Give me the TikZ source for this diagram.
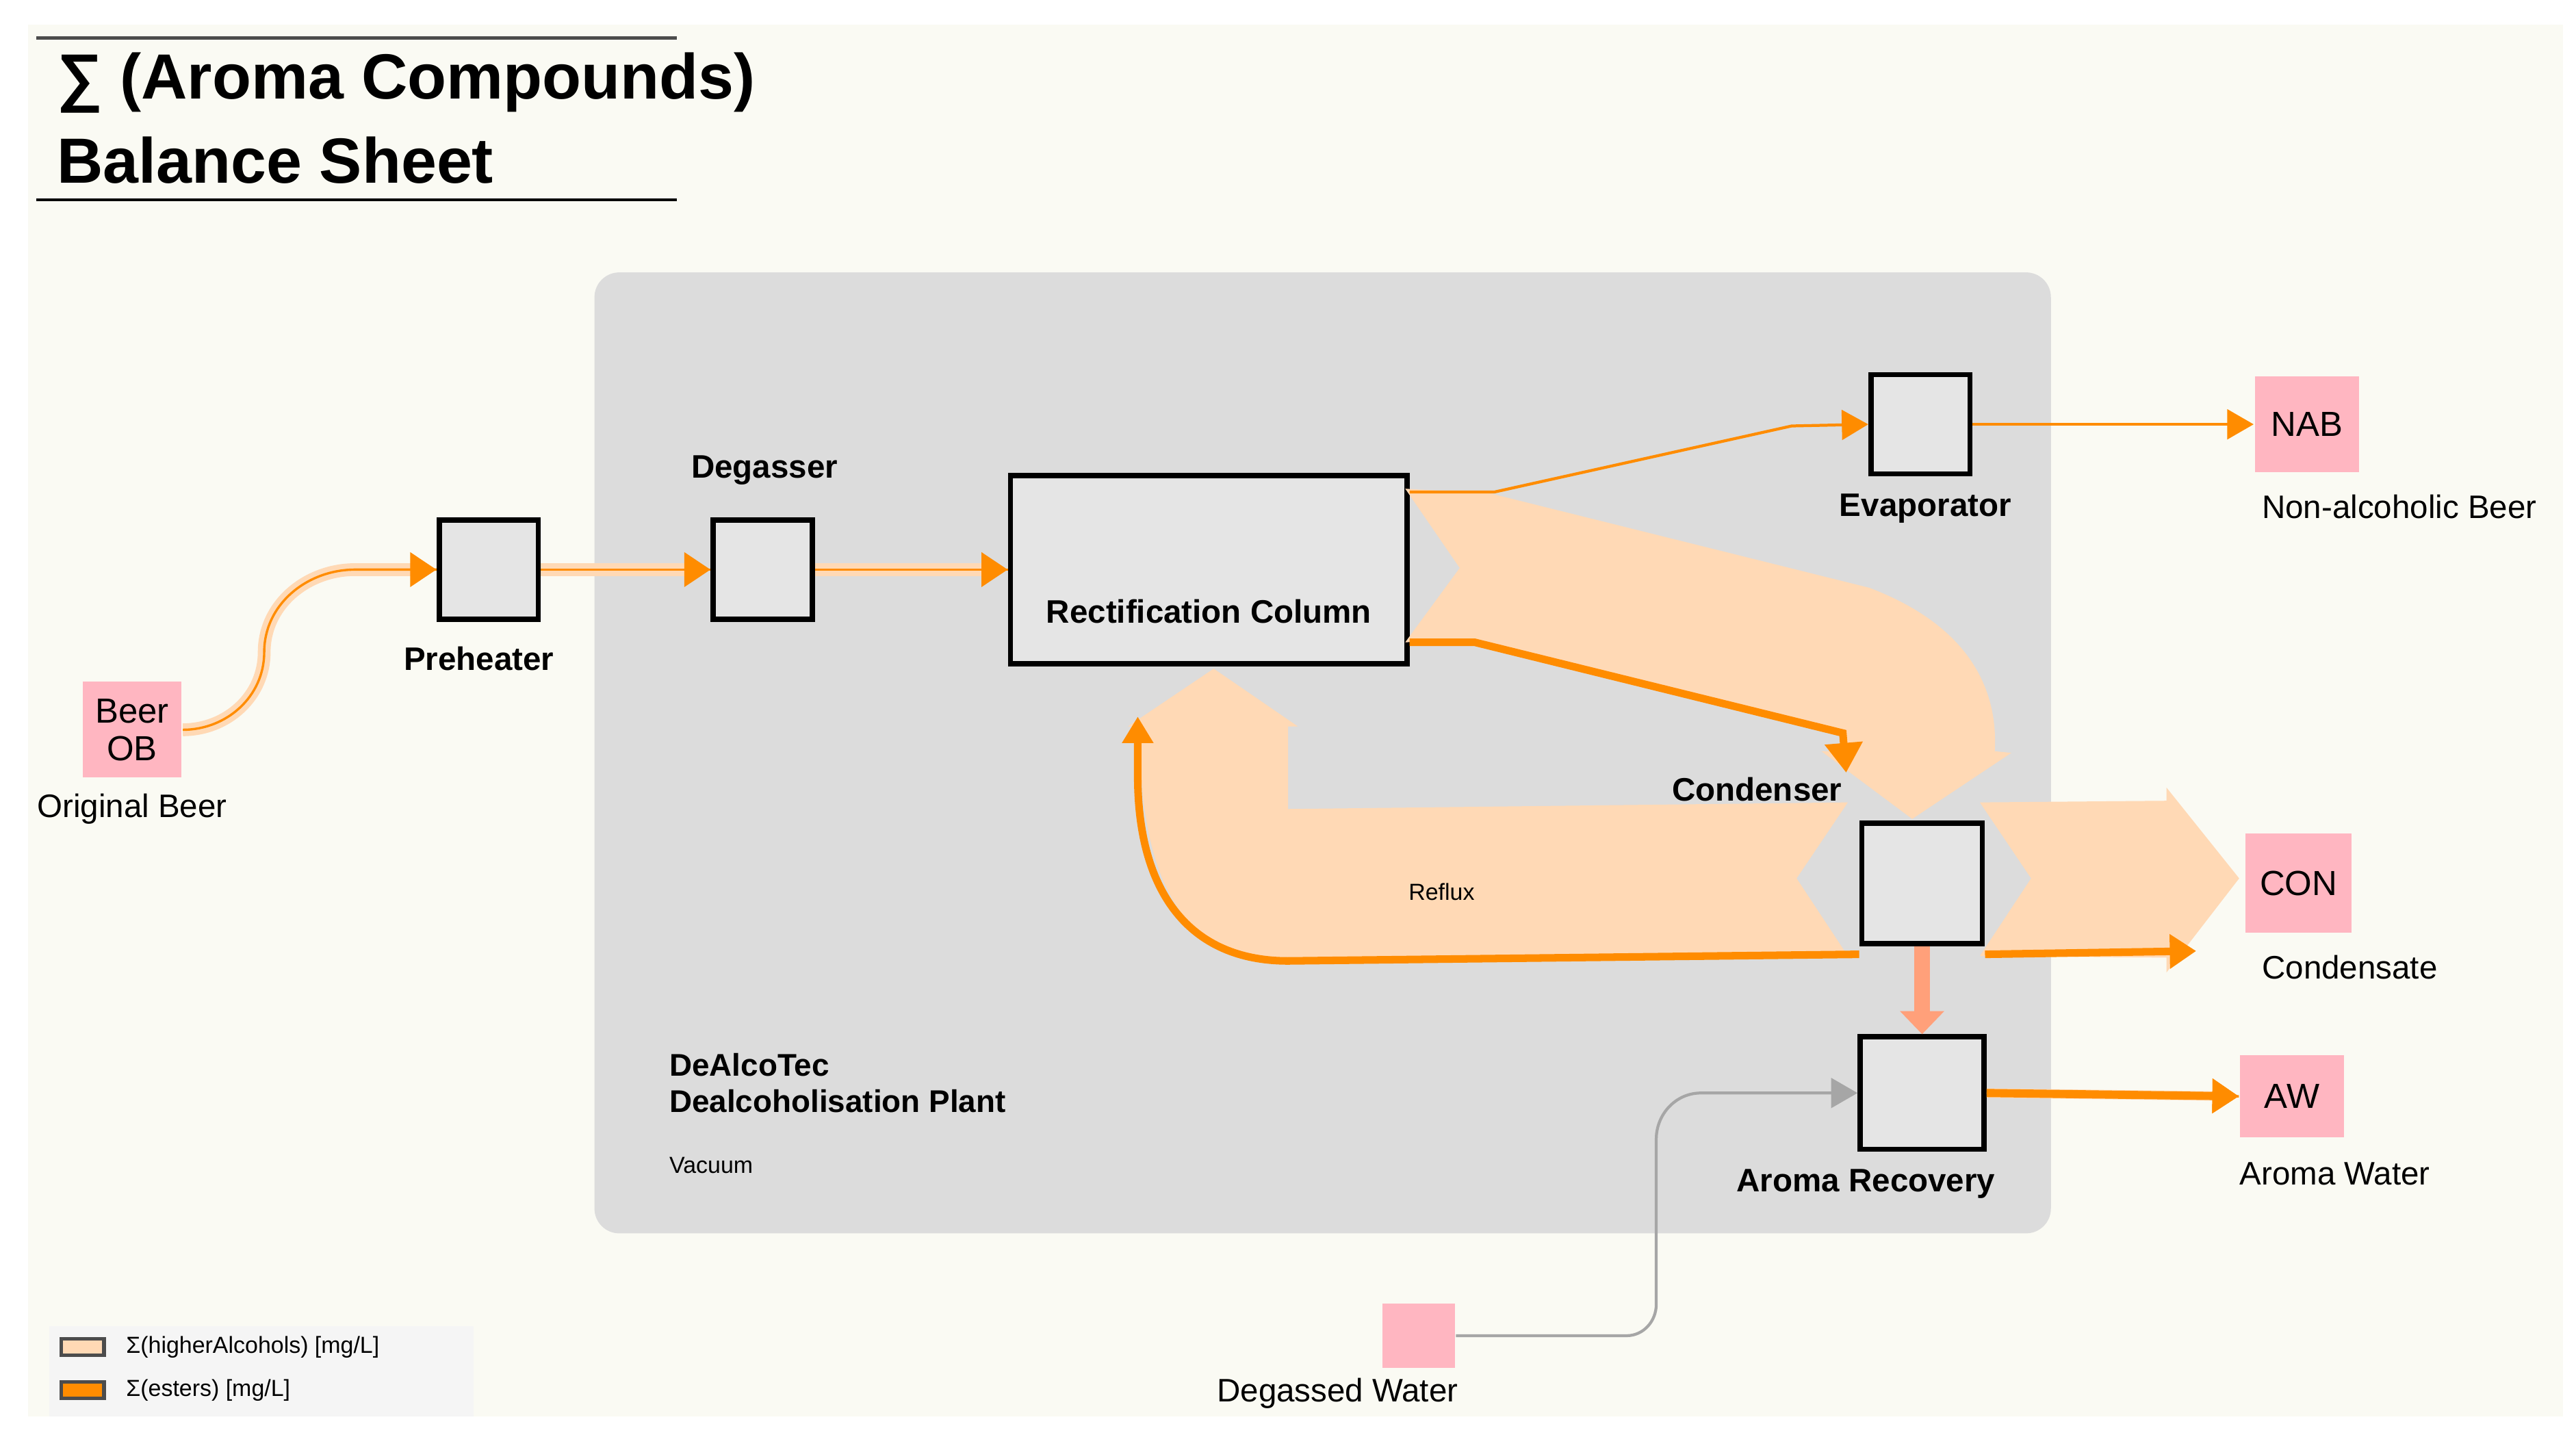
\documentclass[tikz,border=0pt]{standalone}
\usepackage{fontspec}
\setmainfont{Liberation Sans}
\usetikzlibrary{positioning,arrows.meta}
\definecolor{peach}{HTML}{FFD9B5}
\definecolor{ester}{HTML}{FF8C00}
\definecolor{rose}{HTML}{FFB6C1}
\definecolor{salmon}{HTML}{FFA07A}
\definecolor{plant}{HTML}{DCDCDC}
\definecolor{cream}{HTML}{FAFAF3}
\begin{document}
\begin{tikzpicture}[x=0.01cm,y=-0.01cm,
  unit/.style={draw=black,line width=0.9pt,fill=black!10,minimum width=#1,minimum height=#1,inner sep=0pt},
  unit/.default=0.6cm,
  stream/.style={fill=rose,inner sep=0pt,minimum width=0.6cm,minimum height=0.58cm,align=center,font=\fontsize{6}{6.5}\selectfont},
  lbl/.style={font=\fontsize{5.6}{6.5}\selectfont},
  blbl/.style={font=\bfseries\fontsize{5.6}{6.5}\selectfont},
  feed/.style={draw=peach,line width=2.2pt,-{Triangle[length=1.6mm,width=2mm,color=ester]},
    postaction={draw=ester,line width=0.4pt,-}},
  vap/.style={draw=ester,line width=0.5pt,-{Triangle[length=1.6mm,width=1.8mm]}}]
\useasboundingbox (0,0) rectangle (1560,870);
\fill[white] (0,0) rectangle (1560,870);
\fill[cream] (17,15) rectangle (1552,858);
% title
\draw[black!70,line width=0.5pt] (22,23) -- (410,23);
\draw[black,line width=0.5pt] (22,121) -- (410,121);
\node[anchor=west,font=\bfseries\fontsize{11}{13}\selectfont] at (22,50) {∑ (Aroma Compounds)};
\node[anchor=west,font=\bfseries\fontsize{11}{13}\selectfont] at (22,97) {Balance Sheet};
% plant
\fill[plant,rounded corners=0.15cm] (360,165) rectangle (1242,747);
\node[anchor=west,font=\bfseries\fontsize{5.4}{6.3}\selectfont,align=left] at (393,656) {DeAlcoTec\\Dealcoholisation Plant};
\node[anchor=west,font=\fontsize{4}{5}\selectfont] at (393,706) {Vacuum};
% legend
\fill[black!4] (30,803) rectangle (287,858);
\fill[peach,draw=black!70,line width=0.6pt] (37,811) rectangle (63,821);
\fill[ester,draw=black!70,line width=0.6pt] (37,837) rectangle (63,847);
\node[anchor=west,font=\fontsize{4}{5}\selectfont] at (64,816) {Σ(higherAlcohols) [mg/L]};
\node[anchor=west,font=\fontsize{4}{5}\selectfont] at (64,842) {Σ(esters) [mg/L]};
% streams and units
\node[stream] (ob) at (80,442) {Beer\\OB};
\node[lbl] at (80,490) {Original Beer};
\node[unit] (pre) at (296,345) {};
\node[blbl] at (290,399) {Preheater};
\node[unit] (deg) at (462,345) {};
\node[blbl] at (463,285) {Degasser};
\node[unit,minimum width=2.4cm,minimum height=1.14cm] (col) at (732,345) {};
\node[blbl,anchor=south east] at (843,390) {Rectification Column};
\node[unit] (eva) at (1163,257) {};
\node[blbl] at (1166,308) {Evaporator};
\node[stream,minimum width=0.63cm] (nab) at (1397,257) {NAB};
\node[lbl] at (1453,307) {Non-alcoholic Beer};
\node[unit=0.73cm] (cond) at (1164,535) {};
\node[blbl] at (1064,478) {Condenser};
\node[unit,minimum width=0.75cm,minimum height=0.68cm] (aro) at (1164,662) {};
\node[blbl] at (1130,717) {Aroma Recovery};
\node[stream,minimum width=0.64cm,minimum height=0.6cm] (con) at (1392,535) {CON};
\node[lbl] at (1423,586) {Condensate};
\node[stream,minimum width=0.63cm,minimum height=0.5cm] (aw) at (1388,664) {AW};
\node[lbl] at (1414,711) {Aroma Water};
\node[stream,minimum width=0.44cm,minimum height=0.39cm] (dw) at (859,809) {};
\node[lbl] at (810,844) {Degassed Water};
% bands
\fill[peach] (851,296) -- (903,299) -- (1132,356) .. controls (1195,380) and (1210,420) .. (1208,455)
  -- (1218,456) -- (1158,496) -- (1103,455) -- (1117,455) -- (1116,444) -- (893,388) -- (851,389) -- (884,344) -- cycle;
\fill[peach] (1119,486) -- (780,490) -- (780,440) -- (786,440) -- (735,405) -- (683,440) -- (690,440)
  .. controls (690,540) and (720,582) .. (780,582) -- (1119,579) -- (1088,532) -- cycle;
\fill[peach] (1199,486) -- (1312,485) -- (1312,477) -- (1356,532) -- (1312,589) -- (1312,580) -- (1199,579) -- (1230,532) -- cycle;
\node[font=\fontsize{4}{5}\selectfont] at (873,540) {Reflux};
% ester lines on bands
\draw[ester,line width=1.3pt,-{Triangle[length=1.8mm,width=2.2mm]}] (col.east|-0,389) -- (893,389) -- (1116,444) -- (1118,468);
\draw[ester,line width=1.3pt,-{Triangle[length=1.6mm,width=1.8mm]}] (cond.south west|-0,578) -- (780,582) .. controls (720,582) and (689,540) .. (689,470) -- (689,434);
\draw[ester,line width=1.3pt,-{Triangle[length=1.6mm,width=2mm]}] (cond.south east|-0,578) -- (1330,576);
% feed lines
\draw[feed] (ob.east) to[out=0,in=-90] (160,395) to[out=90,in=180] (215,345) -- (pre.west);
\draw[feed] (pre.east) -- (deg.west);
\draw[feed] (deg.east) -- (col.west);
\draw[vap] (col.east|-0,298) -- (905,298) -- (1085,258) -- (eva.west);
\draw[vap] (eva.east) -- (nab.west);
\draw[salmon,line width=2.8pt,-{Triangle[length=1.4mm,width=2.6mm]}] (cond.south) -- (aro.north);
\draw[feed,line width=1.6pt,postaction={draw=ester,line width=1.4pt}] (aro.east) -- (aw.west);
\draw[black!35,line width=0.5pt,-{Triangle[length=1.6mm,width=1.8mm]}] (dw.east) -- (985,809) to[out=0,in=-90] (1003,790) -- (1003,690) to[out=90,in=180] (1030,662) -- (aro.west);
\end{tikzpicture}
\end{document}
